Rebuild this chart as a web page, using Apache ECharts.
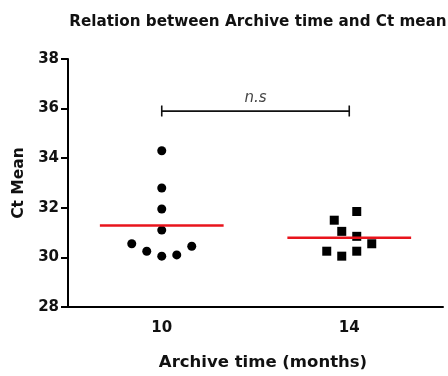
<!DOCTYPE html>
<html><head><meta charset="utf-8">
<script src="https://cdn.jsdelivr.net/npm/echarts@6/dist/echarts.min.js"></script>
<style>html,body{margin:0;padding:0;background:#fff}#c{width:448px;height:376px}</style>
</head><body><div id="c"></div>
<script>
// ---- data ----
const categories = ['10', '14'];
const groupCenters = [1, 3];               // positions of the groups on hidden value axis
const group10Values = [34.3, 32.8, 31.95, 31.1, 30.55, 30.25, 30.05, 30.1, 30.45];
const group10Jitter = [0, 0, 0, 0, -0.32, -0.16, 0, 0.16, 0.32];
const group14Values = [31.5, 31.85, 31.05, 30.85, 30.55, 30.25, 30.05, 30.25];
const group14Jitter = [-0.16, 0.08, -0.08, 0.08, 0.24, -0.24, -0.08, 0.08];
const yTicks = [28, 30, 32, 34, 36, 38];
const bracketY = 35.9;
const bracketLabel = 'n.s';

const mean = a => a.reduce((s, v) => s + v, 0) / a.length;
const halfW = 0.66;
const pts = (vals, jit, c) => vals.map((v, i) => [c + jit[i], v]);

const chart = echarts.init(document.getElementById('c'));
const FONT = 'DejaVu Sans';
chart.setOption({
  animation: false,
  title: {
    text: 'Relation between Archive time and Ct mean',
    left: 253, textAlign: 'center', top: 10,
    textStyle: {fontFamily: FONT, fontSize: 15.2, fontWeight: 'bold', color: '#111'}
  },
  grid: {left: 68, right: 5, top: 59, bottom: 68},
  xAxis: [{
    type: 'category', data: categories, boundaryGap: true,
    name: 'Archive time (months)', nameLocation: 'middle', nameGap: 47,
    nameTextStyle: {fontFamily: FONT, fontSize: 16.5, fontWeight: 'bold', color: '#111', padding: [0, 0, 0, 15]},
    axisLine: {lineStyle: {color: '#000', width: 2}},
    axisTick: {alignWithLabel: true, length: 6, lineStyle: {color: '#000', width: 2}},
    axisLabel: {margin: 14, fontFamily: FONT, fontSize: 15, fontWeight: 'bold', color: '#111'}
  }, {
    type: 'value', min: 0, max: 4, show: false
  }],
  yAxis: {
    type: 'value', min: yTicks[0], max: yTicks[yTicks.length - 1], interval: 2,
    name: 'Ct Mean', nameLocation: 'middle', nameGap: 40, nameRotate: 90,
    nameTextStyle: {fontFamily: FONT, fontSize: 15.5, fontWeight: 'bold', color: '#111'},
    axisLine: {show: true, lineStyle: {color: '#000', width: 2}},
    axisTick: {show: true, length: 7, lineStyle: {color: '#000', width: 2}},
    axisLabel: {margin: 9, fontFamily: FONT, fontSize: 15, fontWeight: 'bold', color: '#111'},
    splitLine: {show: false}
  },
  series: [
    {type: 'scatter', xAxisIndex: 1, symbol: 'circle', symbolSize: 9,
     itemStyle: {color: '#000', opacity: 1}, data: pts(group10Values, group10Jitter, groupCenters[0])},
    {type: 'scatter', xAxisIndex: 1, symbol: 'rect', symbolSize: 9,
     itemStyle: {color: '#000', opacity: 1}, data: pts(group14Values, group14Jitter, groupCenters[1])},
    {type: 'line', xAxisIndex: 1, symbol: 'none', lineStyle: {color: '#e8141c', width: 2.5},
     data: [[groupCenters[0] - halfW, mean(group10Values)], [groupCenters[0] + halfW, mean(group10Values)]]},
    {type: 'line', xAxisIndex: 1, symbol: 'none', lineStyle: {color: '#e8141c', width: 2.5},
     data: [[groupCenters[1] - halfW, mean(group14Values)], [groupCenters[1] + halfW, mean(group14Values)]]},
    {type: 'line', xAxisIndex: 1, symbol: 'none', lineStyle: {color: '#111', width: 1.6},
     data: [[groupCenters[0], bracketY], [groupCenters[1], bracketY]]},
    {type: 'line', xAxisIndex: 1, symbol: 'none', lineStyle: {color: '#111', width: 1.6},
     data: [[groupCenters[0], bracketY - 0.22], [groupCenters[0], bracketY + 0.22]]},
    {type: 'line', xAxisIndex: 1, symbol: 'none', lineStyle: {color: '#111', width: 1.6},
     data: [[groupCenters[1], bracketY - 0.22], [groupCenters[1], bracketY + 0.22]]},
    {type: 'scatter', xAxisIndex: 1, symbolSize: 0, silent: true,
     label: {show: true, position: 'top', distance: 5, formatter: bracketLabel,
       fontFamily: FONT, fontSize: 15, fontStyle: 'italic', color: '#111'},
     data: [[(groupCenters[0] + groupCenters[1]) / 2, bracketY]]}
  ]
});
</script></body></html>
